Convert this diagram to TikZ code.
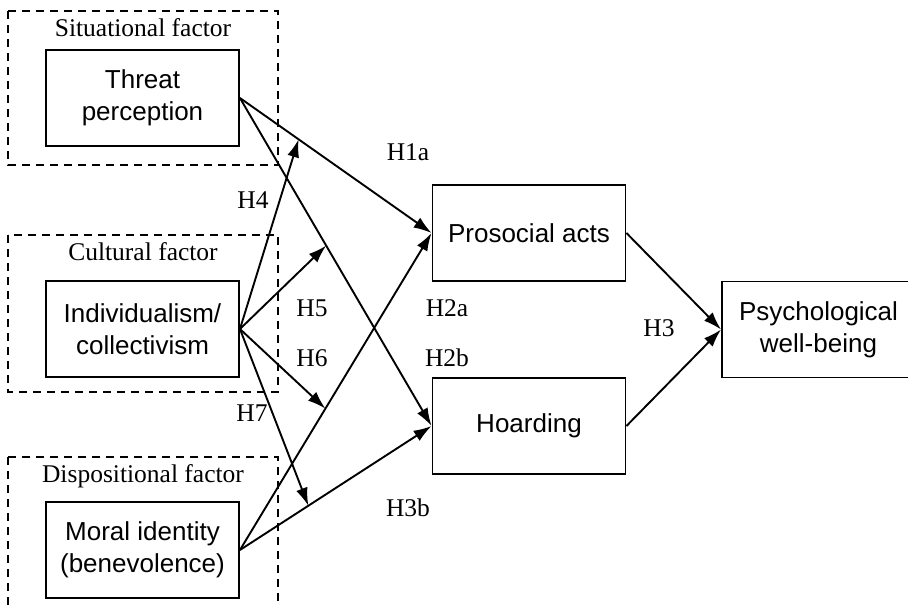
\documentclass[tikz,border=0pt]{standalone}
\usepackage{fontspec}
\setmainfont{Liberation Serif}
\setsansfont{Liberation Sans}
\usetikzlibrary{arrows.meta}
\tikzset{
  factorbox/.style={draw, line width=1.9pt, minimum width=193pt, minimum height=96pt, inner sep=0pt, align=center, font=\sffamily\fontsize{26}{32}\selectfont},
  groupbox/.style={draw, line width=1.4pt, dash pattern=on 8pt off 6pt},
  hyp/.style={inner sep=0pt, font=\fontsize{25.5}{30}\selectfont},
  link/.style={line width=1.9pt, -{Latex[length=18pt,width=12pt]}}
}
\begin{document}
\begin{tikzpicture}[x=1pt,y=-1pt]
                    \useasboundingbox (0,0) rectangle (908,605);
                    \draw[groupbox] (8,11) rectangle (278,165);
                    \draw[groupbox] (8,235) rectangle (278,392);
                    \draw[groupbox] (8,457) rectangle (278,625);
                    \node[hyp] (situational) at (143,28) {Situational factor};
                    \node[hyp] (cultural) at (143,252) {Cultural factor};
                    \node[hyp] (dispositional) at (143,476) {Dispositional factor};
                    \node[factorbox] (threat) at (142.5,98) {Threat\\perception};
                    \node[factorbox] (indiv) at (142.5,329) {Individualism/\\collectivism};
                    \node[factorbox] (moral) at (142.5,550) {Moral identity\\(benevolence)};
                    \node[factorbox] (prosocial) at (529,233) {Prosocial acts};
                    \node[factorbox] (hoarding) at (529,426) {Hoarding};
                    \node[factorbox] (wellbeing) at (818.5,329.5) {Psychological\\well-being};
                    \path (threat.east) -- (prosocial.west) coordinate[pos=0.306] (h4end);
                    \path (threat.east) -- (hoarding.west) coordinate[pos=0.45] (h5end);
                    \path (moral.east) -- (prosocial.west) coordinate[pos=0.446] (h6end);
                    \path (moral.east) -- (hoarding.west) coordinate[pos=0.357] (h7end);
                    \draw[link] (threat.east) -- (prosocial.west);
                    \draw[link] (threat.east) -- (hoarding.west);
                    \draw[link] (moral.east) -- (prosocial.west);
                    \draw[link] (moral.east) -- (hoarding.west);
                    \draw[link] (indiv.east) -- (h4end);
                    \draw[link] (indiv.east) -- (h5end);
                    \draw[link] (indiv.east) -- (h6end);
                    \draw[link] (indiv.east) -- (h7end);
                    \draw[link] (prosocial.east) -- (wellbeing.west);
                    \draw[link] (hoarding.east) -- (wellbeing.west);
                    \node[hyp] (h1a) at (408,152) {H1a};
                    \node[hyp] (h4) at (253,200) {H4};
                    \node[hyp] (h5) at (312,308) {H5};
                    \node[hyp] (h6) at (312,358) {H6};
                    \node[hyp] (h7) at (252,413) {H7};
                    \node[hyp] (h2a) at (447,308) {H2a};
                    \node[hyp] (h2b) at (447,358) {H2b};
                    \node[hyp] (h3) at (659,328) {H3};
                    \node[hyp] (h3b) at (408,508) {H3b};
                \end{tikzpicture}
\end{document}
